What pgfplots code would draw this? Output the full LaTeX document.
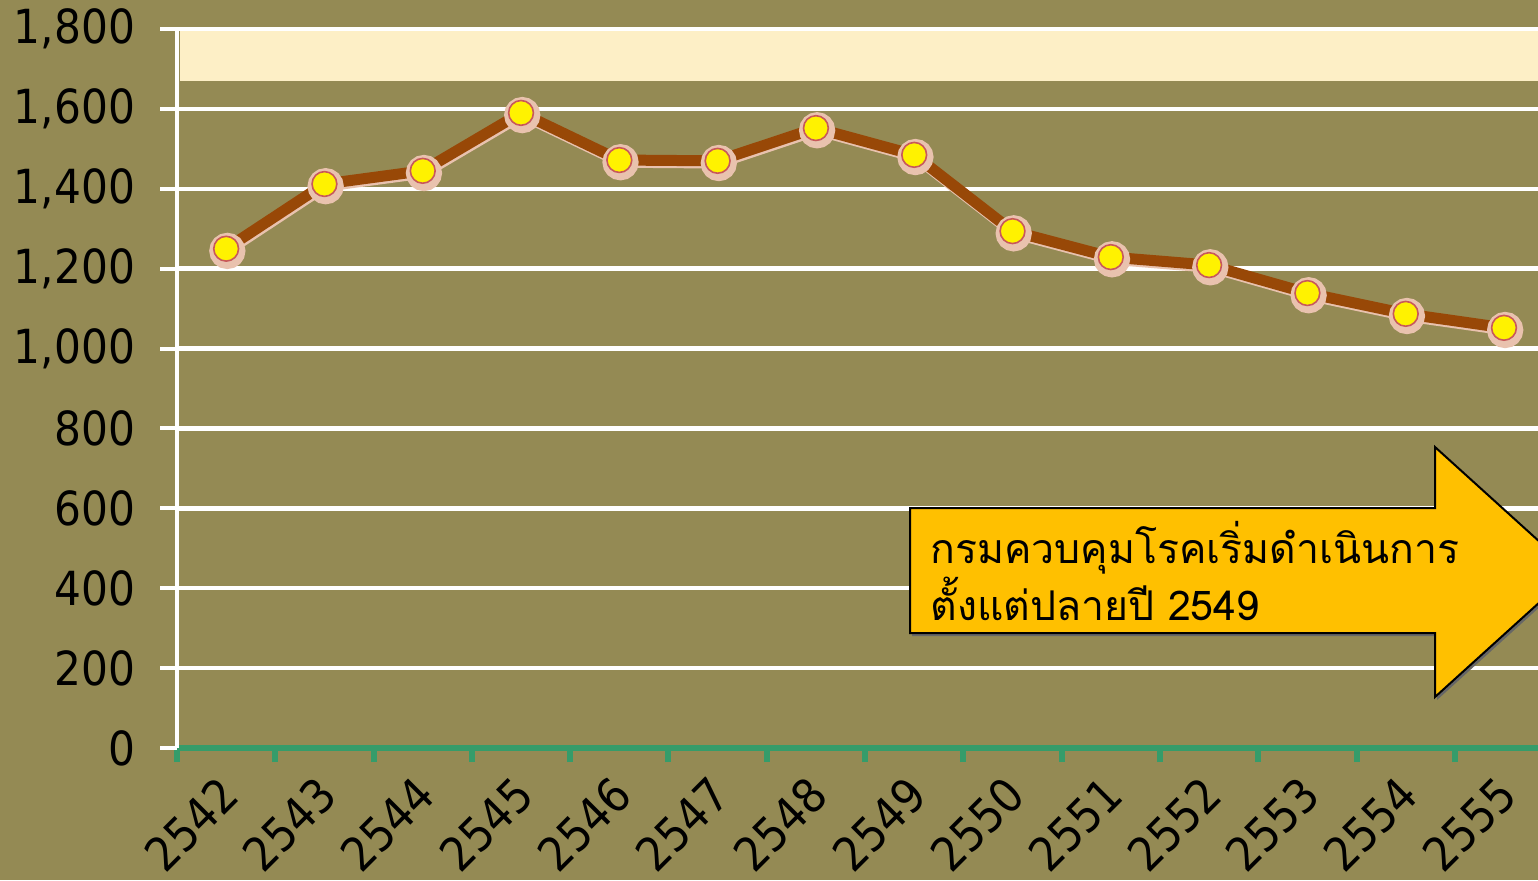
\documentclass[border=0pt]{standalone}
\usepackage{pgfplots}
\pgfplotsset{compat=1.18}
\usepackage{pgfplotstable}
\usepackage{fontspec}
\setmainfont{DejaVu Sans Condensed}
\newfontfamily\thaifont[Script=Thai]{Loma}
\definecolor{bg}{HTML}{948A54}
\definecolor{band}{HTML}{FDEFC6}
\definecolor{brownline}{HTML}{984807}
\definecolor{markedge}{HTML}{C8585A}
\definecolor{shadowc}{HTML}{E9C2AE}
\definecolor{axgreen}{HTML}{359C6A}
\definecolor{arrowc}{HTML}{FFC000}
\pgfplotstableread{
x y
0 1250
1 1412
2 1445
3 1590
4 1472
5 1470
6 1552
7 1485
8 1294
9 1229
10 1209
11 1139
12 1087
13 1052
}\datatable
\begin{document}
\begin{tikzpicture}
\fill[bg] (0,0) rectangle (769pt,-440pt);
\begin{axis}[
  at={(88.5pt,-374pt)}, anchor=south west,
  scale only axis, width=680.5pt, height=359.5pt,
  xmin=-0.5, xmax=13.346, ymin=0, ymax=1800,
  axis lines=left,
  x axis line style={-, draw=axgreen, line width=3pt},
  y axis line style={-, draw=white, line width=2pt},
  xtick={0,...,13},
  xticklabels={2542,2543,2544,2545,2546,2547,2548,2549,2550,2551,2552,2553,2554,2555},
  minor xtick={-0.5,0.5,...,13.5},
  ytick={0,200,...,1800},
  tick align=outside,
  major tick length=8.5pt,
  minor tick length=7pt,
  every major x tick/.append style={draw=none},
  every minor x tick/.append style={draw=axgreen, line width=3pt},
  ytick style={draw=white, line width=2pt},
  ymajorgrids, major grid style={white, line width=2.2pt},
  ticklabel style={font=\fontsize{23.5}{27}\selectfont, text=black},
  /pgf/number format/assume math mode=true,
  yticklabel style={xshift=-9pt},
  xticklabel style={xshift=4pt, yshift=-8pt, rotate=45, anchor=east},
]
\fill[band] (axis cs:-0.47,1670) rectangle (axis cs:13.346,1795);
\addplot[shadowc, line width=5.5pt, mark=*, mark size=6.3pt, mark options={draw=shadowc, fill=shadowc}, xshift=0.6pt, yshift=-1.1pt] table {\datatable};
\addplot[brownline, line width=5.5pt, mark=*, mark size=6.2pt, mark options={fill=yellow, draw=markedge, line width=0.8pt}] table {\datatable};
\end{axis}
\begin{scope}[x=0.5pt, y=-0.5pt]
\fill[black!60, shift={(2,3)}] (910,508) -- (1435,508) -- (1435,447) -- (1573,572) -- (1435,697) -- (1435,633) -- (910,633) -- cycle;
\filldraw[fill=arrowc, draw=black, line width=1pt] (910,508) -- (1435,508) -- (1435,447) -- (1573,572) -- (1435,697) -- (1435,633) -- (910,633) -- cycle;
\node[anchor=west, align=left, inner sep=0pt, font={\thaifont\fontsize{20.5}{25}\selectfont}] at (930,571) {กรมควบคุมโรคเริ่มดำเนินการ\\ตั้งแต่ปลายปี 2549};
\end{scope}
\pgfresetboundingbox
\useasboundingbox (0,0) rectangle (769pt,-440pt);
\end{tikzpicture}
\end{document}
